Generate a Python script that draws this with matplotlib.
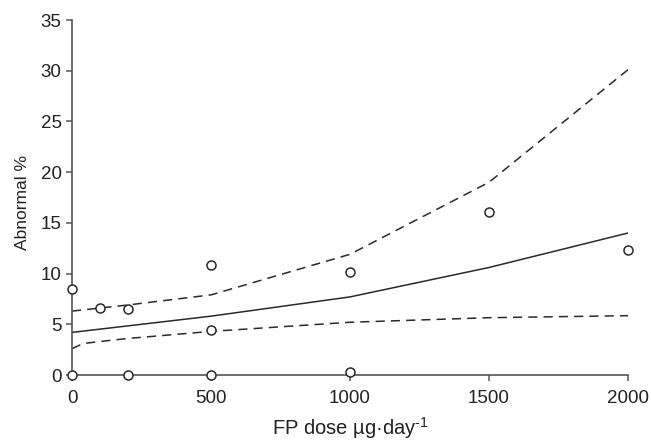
import numpy as np
import matplotlib
matplotlib.use("Agg")
import matplotlib.pyplot as plt

plt.rcParams['font.family'] = ['Liberation Sans', 'DejaVu Sans']
plt.rcParams['mathtext.fontset'] = 'custom'
plt.rcParams['mathtext.rm'] = 'Liberation Sans'
plt.rcParams['mathtext.it'] = 'Liberation Sans'

# observed points
dose_pts = [0, 0, 100, 200, 200, 500, 500, 500, 1000, 1000, 1500, 2000]
abn_pts = [0, 8.5, 6.6, 6.5, 0, 10.8, 4.4, 0, 10.2, 0.25, 16.1, 12.3]

# fitted curve and bounds
dose_fit = [0, 500, 1000, 1500, 2000]
abn_fit = [4.2, 5.8, 7.7, 10.6, 14.0]
dose_up = [0, 100, 200, 500, 1000, 1500, 2000]
abn_up = [6.3, 6.6, 6.9, 7.9, 11.9, 19.0, 30.1]
dose_lo = [0, 40, 100, 200, 500, 1000, 1500, 2000]
abn_lo = [2.6, 3.1, 3.3, 3.6, 4.3, 5.2, 5.65, 5.85]

fig = plt.figure(figsize=(6.51, 4.40), dpi=100)
ax = fig.add_axes([72/651, 65/440, 556/651, 355/440])

ink = '#2a2a2a'
ax.plot(dose_fit, abn_fit, color=ink, lw=1.1)
ax.plot(dose_up, abn_up, color=ink, lw=1.1, dashes=(6, 4))
ax.plot(dose_lo, abn_lo, color=ink, lw=1.1, dashes=(6, 4))
ax.plot(dose_pts, abn_pts, 'o', ms=6.5, mfc='white', mec=ink, mew=1.1,
        linestyle='none', clip_on=False, zorder=5)

ax.set_xlim(0, 2000)
ax.set_ylim(0, 35)
ax.set_xticks([0, 500, 1000, 1500, 2000])
ax.set_yticks(np.arange(0, 36, 5))

for s in ['top', 'right']:
    ax.spines[s].set_visible(False)
for s in ['left', 'bottom']:
    ax.spines[s].set_color('#555555')
    ax.spines[s].set_linewidth(1.2)

ax.tick_params(direction='out', length=4.5, width=1.1, color='#555555',
               labelsize=13.5, labelcolor='#222222', pad=3)
ax.tick_params(axis='x', pad=6)

ax.set_xlabel(r'FP dose µg·day$^{\text{-1}}$', fontsize=14.5, color='#222222', labelpad=6)
ax.set_ylabel('Abnormal %', fontsize=12.5, color='#222222')
ax.yaxis.set_label_coords(-0.075, 0.485)

fig.savefig('out.png', dpi=100)
